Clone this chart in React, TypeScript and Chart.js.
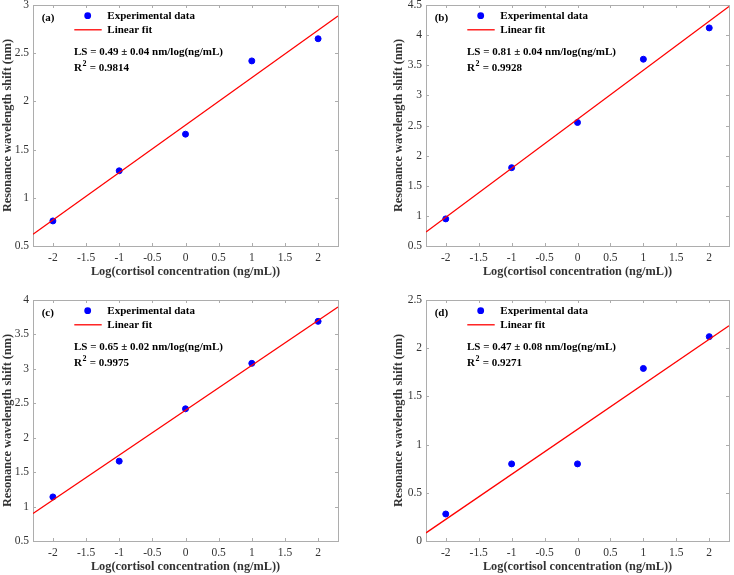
import React, { useEffect, useRef } from "react";
import { Chart, registerables } from "chart.js";

Chart.register(...registerables);

// ---------- data ----------
const xValues = [-2, -1, 0, 1, 2];
const seriesA = [0.76, 1.28, 1.66, 2.42, 2.65];
const seriesB = [0.95, 1.8, 2.55, 3.6, 4.12];
const seriesC = [1.14, 1.66, 2.42, 3.08, 3.69];
const seriesD = [0.28, 0.8, 0.8, 1.79, 2.12];
const allSeries = [seriesA, seriesB, seriesC, seriesD];

const fitSlopes = [0.492, 0.814, 0.652, 0.467];
const fitIntercepts = [1.754, 2.604, 2.398, 1.158];

const panelLabels = ["(a)", "(b)", "(c)", "(d)"];
const lsTexts = [
  "LS = 0.49 \u00B1 0.04 nm/log(ng/mL)",
  "LS = 0.81 \u00B1 0.04 nm/log(ng/mL)",
  "LS = 0.65 \u00B1 0.02 nm/log(ng/mL)",
  "LS = 0.47 \u00B1 0.08 nm/log(ng/mL)",
];
const r2Values = ["0.9814", "0.9928", "0.9975", "0.9271"];

const xMin = -2.3;
const xMax = 2.3;
const xStep = 0.5;
const yMins = [0.5, 0.5, 0.5, 0];
const yMaxs = [3, 4.5, 4, 2.5];
const yStep = 0.5;

const legendLabels = ["Experimental data", "Linear fit"];
const xTitle = "Log(cortisol concentration (ng/mL))";
const yTitle = "Resonance wavelength shift (nm)";

// ---------- layout / style ----------
const FONT = "'Liberation Serif', 'Times New Roman', Times, serif";
const AXIS_TEXT = "#333333";
const BOX = "#adadad";
const BLUE = "#0000ff";
const RED = "#ff0000";

type Layout = {
  left: number; top: number; w: number; h: number;
  padLeft: number; yAxisW: number; padTop: number; padRight: number; padBottom: number;
};

const layouts: Layout[] = [
  { left: 0, top: 0, w: 367, h: 287, padLeft: 0, yAxisW: 33, padTop: 5, padRight: 29, padBottom: 8 },
  { left: 367, top: 0, w: 367, h: 287, padLeft: 24.3, yAxisW: 34.7, padTop: 5, padRight: 3, padBottom: 8 },
  { left: 0, top: 287, w: 367, h: 288, padLeft: 0, yAxisW: 33, padTop: 13, padRight: 29, padBottom: 1 },
  { left: 367, top: 287, w: 367, h: 288, padLeft: 24.3, yAxisW: 34.7, padTop: 13, padRight: 3, padBottom: 1 },
];

function fmt(v: number) {
  return String(Math.round(v * 10) / 10);
}

function Panel({ idx }: { idx: number }) {
  const ref = useRef<HTMLCanvasElement>(null);
  const L = layouts[idx];

  useEffect(() => {
    const canvas = ref.current;
    if (!canvas) return;
    const series = allSeries[idx];
    const slope = fitSlopes[idx];
    const icpt = fitIntercepts[idx];
    const points = xValues.map((x, i) => ({ x, y: series[i] }));
    const fitLine = [xMin, xMax].map((x) => ({ x, y: icpt + slope * x }));

    const decor = {
      id: "decor" + idx,
      beforeDatasetsDraw(chart: any) {
        const { ctx, chartArea } = chart;
        const { left, right, top, bottom } = chartArea;
        const xs = chart.scales.x;
        const ys = chart.scales.y;
        ctx.save();
        ctx.strokeStyle = BOX;
        ctx.lineWidth = 1;
        ctx.strokeRect(left + 0.5, top + 0.5, right - left, bottom - top);
        const tl = 3;
        ctx.beginPath();
        xs.ticks.forEach((t: any) => {
          const px = Math.round(xs.getPixelForValue(t.value)) + 0.5;
          ctx.moveTo(px, bottom);
          ctx.lineTo(px, bottom - tl);
          ctx.moveTo(px, top);
          ctx.lineTo(px, top + tl);
        });
        ys.ticks.forEach((t: any) => {
          const py = Math.round(ys.getPixelForValue(t.value)) + 0.5;
          ctx.moveTo(left, py);
          ctx.lineTo(left + tl, py);
          ctx.moveTo(right, py);
          ctx.lineTo(right - tl, py);
        });
        ctx.stroke();
        ctx.restore();
      },
      afterDatasetsDraw(chart: any) {
        const { ctx, chartArea } = chart;
        const { left, top } = chartArea;
        ctx.save();
        ctx.fillStyle = "#000";
        ctx.textBaseline = "middle";
        ctx.textAlign = "left";
        ctx.font = `bold 11px ${FONT}`;
        // panel label
        ctx.fillText(panelLabels[idx], left + 8.7, top + 13.3);
        // legend marker
        ctx.beginPath();
        ctx.fillStyle = BLUE;
        ctx.arc(left + 54.7, top + 10.7, 3.4, 0, Math.PI * 2);
        ctx.fill();
        // legend line
        ctx.strokeStyle = RED;
        ctx.lineWidth = 1.3;
        ctx.beginPath();
        ctx.moveTo(left + 41.3, top + 24.8);
        ctx.lineTo(left + 68.7, top + 24.8);
        ctx.stroke();
        ctx.fillStyle = "#000";
        ctx.fillText(legendLabels[0], left + 74.3, top + 10.7);
        ctx.fillText(legendLabels[1], left + 74.3, top + 25);
        // LS
        ctx.fillText(lsTexts[idx], left + 41, top + 47.3);
        // R^2
        const rx = left + 41;
        const ry = top + 63.3;
        ctx.fillText("R", rx, ry);
        const rw = ctx.measureText("R").width;
        ctx.font = `bold 8px ${FONT}`;
        ctx.fillText("2", rx + rw + 0.5, ry - 4.5);
        const sw = ctx.measureText("2").width;
        ctx.font = `bold 11px ${FONT}`;
        ctx.fillText(" = " + r2Values[idx], rx + rw + sw + 1, ry);
        ctx.restore();
      },
    };

    const chart = new Chart(canvas, {
      type: "scatter",
      data: {
        datasets: [
          {
            type: "line",
            data: fitLine,
            borderColor: RED,
            borderWidth: 1.3,
            pointRadius: 0,
            fill: false,
            tension: 0,
            order: 0,
          } as any,
          {
            type: "scatter",
            data: points,
            backgroundColor: BLUE,
            borderColor: BLUE,
            borderWidth: 1,
            pointRadius: 3,
            order: 1,
          } as any,
        ],
      },
      options: {
        responsive: false,
        animation: false,
        events: [],
        layout: {
          padding: { left: L.padLeft, top: L.padTop, right: L.padRight, bottom: L.padBottom },
        },
        plugins: {
          legend: { display: false },
          tooltip: { enabled: false },
        },
        scales: {
          x: {
            type: "linear",
            min: xMin,
            max: xMax,
            grid: { display: false, drawTicks: false },
            border: { display: false },
            ticks: {
              stepSize: xStep,
              includeBounds: false,
              padding: 5,
              maxRotation: 0,
              autoSkip: false,
              color: AXIS_TEXT,
              font: { family: FONT, size: 11.5 },
              callback: (v: any) => fmt(Number(v)),
            },
            title: {
              display: true,
              text: xTitle,
              color: AXIS_TEXT,
              font: { family: FONT, size: 12.3, weight: "bold" },
              padding: 0,
            },
            afterFit(s: any) {
              s.height = 33;
              s.paddingLeft = 0;
              s.paddingRight = 0;
            },
          },
          y: {
            type: "linear",
            min: yMins[idx],
            max: yMaxs[idx],
            grid: { display: false, drawTicks: false },
            border: { display: false },
            ticks: {
              stepSize: yStep,
              includeBounds: false,
              padding: 4,
              autoSkip: false,
              color: AXIS_TEXT,
              font: { family: FONT, size: 11.5 },
              callback: (v: any) => fmt(Number(v)),
            },
            title: {
              display: true,
              text: yTitle,
              color: AXIS_TEXT,
              font: { family: FONT, size: 12.3, weight: "bold" },
              padding: 0,
            },
            afterFit(s: any) {
              s.width = L.yAxisW;
              s.paddingTop = 0;
              s.paddingBottom = 0;
            },
          },
        },
      } as any,
      plugins: [decor],
    });
    return () => chart.destroy();
  }, [idx]);

  return (
    <canvas
      ref={ref}
      width={L.w}
      height={L.h}
      style={{ position: "absolute", left: L.left, top: L.top, width: L.w, height: L.h }}
    />
  );
}

export default function App() {
  return (
    <div
      style={{
        position: "fixed",
        left: 0,
        top: 0,
        width: 734,
        height: 575,
        background: "#ffffff",
        overflow: "hidden",
      }}
    >
      {[0, 1, 2, 3].map((i) => (
        <Panel key={i} idx={i} />
      ))}
    </div>
  );
}
